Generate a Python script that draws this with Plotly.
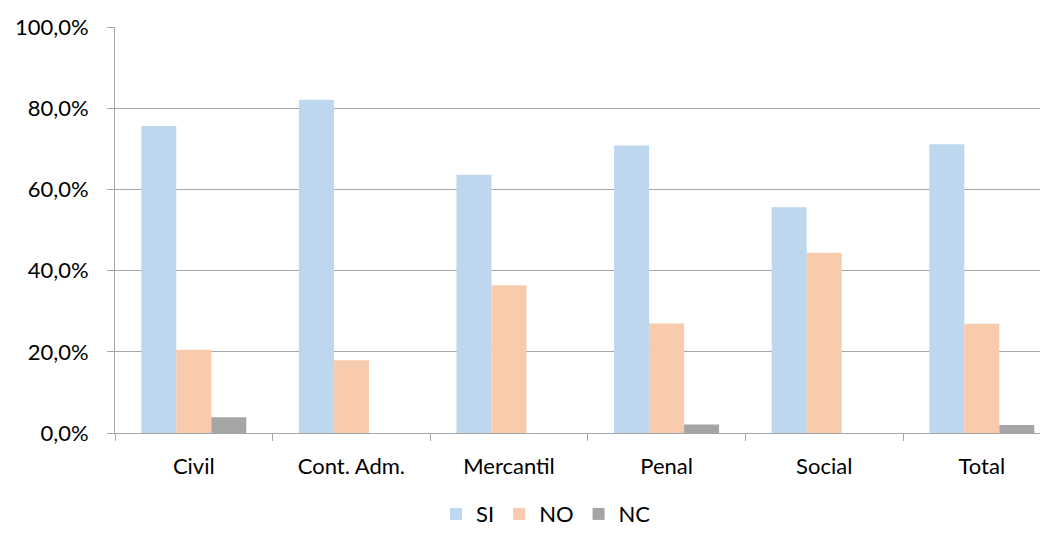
import plotly.graph_objects as go

categories = ["Civil", "Cont. Adm.", "Mercantil", "Penal", "Social", "Total"]
si = [75.6, 82.1, 63.6, 70.8, 55.6, 71.1]
no = [20.5, 17.9, 36.4, 27.0, 44.4, 26.9]
nc = [3.9, 0.0, 0.0, 2.1, 0.0, 2.0]
y_ticks = [0, 20, 40, 60, 80, 100]
y_tick_labels = ["0,0%", "20,0%", "40,0%", "60,0%", "80,0%", "100,0%"]

font_family = "Lato, 'Open Sans', sans-serif"

fig = go.Figure()
fig.add_trace(go.Bar(name="SI", x=categories, y=si, marker=dict(color="#BDD7EE", line=dict(width=0))))
fig.add_trace(go.Bar(name="NO", x=categories, y=no, marker=dict(color="#F8CBAD", line=dict(width=0))))
fig.add_trace(go.Bar(name="NC", x=categories, y=nc, marker=dict(color="#A5A5A5", line=dict(width=0))))

fig.update_layout(
    width=1040, height=525,
    margin=dict(l=107, r=0, t=19, b=100),
    paper_bgcolor="white", plot_bgcolor="white",
    barmode="group", bargap=0.334, bargroupgap=0,
    font=dict(family=font_family, size=22, color="#000000"),
    showlegend=True,
    legend=dict(orientation="h", x=0.462, xanchor="center",
                yref="container", y=0.036, yanchor="middle",
                font=dict(size=22), itemwidth=30, traceorder="normal"),
    xaxis=dict(
        range=[-0.5, 5.42], automargin=False,
        showgrid=False, showline=True, linecolor="#A6A6A6", linewidth=1,
        ticks="outside", tickson="boundaries", ticklen=7, tickcolor="#A6A6A6",
        tickfont=dict(size=22, color="#000000"), ticklabelstandoff=14,
    ),
    yaxis=dict(
        range=[0, 100], tickvals=y_ticks, ticktext=y_tick_labels, automargin=False,
        showgrid=True, gridcolor="#A6A6A6", gridwidth=1,
        showline=True, linecolor="#A6A6A6", linewidth=1,
        ticks="outside", ticklen=7, tickcolor="#A6A6A6",
        tickfont=dict(size=22, color="#000000"), ticklabelstandoff=14,
        zeroline=False,
    ),
)

fig.write_html("out.html")
